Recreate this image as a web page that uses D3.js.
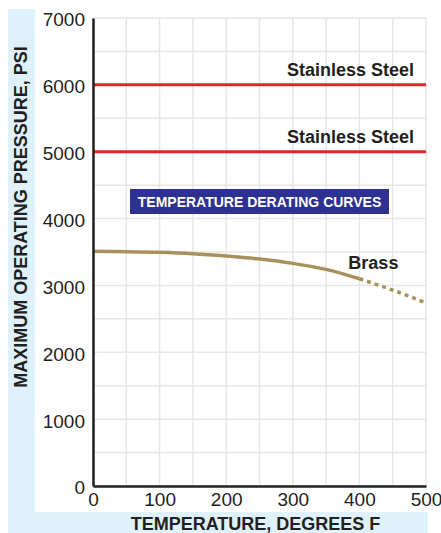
<!DOCTYPE html>
<html><head><meta charset="utf-8">
<script src="https://cdn.jsdelivr.net/npm/d3@7"></script>
<style>body{margin:0;background:#fff;}svg{display:block;font-family:"Liberation Sans",Arial,Helvetica,sans-serif;}</style>
</head><body>
<svg id="c" width="441" height="533"></svg>
<script>
const xTicks = [0,100,200,300,400,500];
const yTicks = [0,1000,2000,3000,4000,5000,6000,7000];
const steelLevels = [6000,5000];
const steelLabels = ["Stainless Steel","Stainless Steel"];
const brassTempSolid = [0,50,100,150,200,250,300,350,400];
const brassPsiSolid = [3510,3505,3495,3475,3440,3395,3330,3240,3100];
const brassTempDash = [400,450,500];
const brassPsiDash = [3100,2930,2740];
const title = "TEMPERATURE DERATING CURVES";
const xTitle = "TEMPERATURE, DEGREES F";
const yTitle = "MAXIMUM OPERATING PRESSURE, PSI";

const svg = d3.select("#c");
const x = d3.scaleLinear().domain([0,500]).range([93,426]);
const y = d3.scaleLinear().domain([0,7000]).range([486,18]);

// blue L background
svg.append("rect").attr("x",8).attr("y",9).attr("width",27).attr("height",524).attr("fill","#dff1fb");
svg.append("rect").attr("x",8).attr("y",512).attr("width",420).attr("height",21).attr("fill","#dff1fb");

// grid
const gx = d3.range(0,501,50), gy = d3.range(0,7001,500);
svg.append("g").selectAll("line").data(gx).join("line")
  .attr("x1",d=>x(d)).attr("x2",d=>x(d)).attr("y1",y(7000)).attr("y2",y(0))
  .attr("stroke","#e6e6e6").attr("stroke-width",1.5);
svg.append("g").selectAll("line").data(gy).join("line")
  .attr("x1",x(0)).attr("x2",x(500)).attr("y1",d=>y(d)).attr("y2",d=>y(d))
  .attr("stroke","#e6e6e6").attr("stroke-width",1.5);

// steel lines
svg.append("g").selectAll("line").data(steelLevels).join("line")
  .attr("x1",x(0)).attr("x2",x(500)).attr("y1",d=>y(d)).attr("y2",d=>y(d))
  .attr("stroke","#e52329").attr("stroke-width",3);
svg.append("g").selectAll("text").data(steelLevels).join("text")
  .attr("x",x(482)).attr("y",d=>y(d)-9).attr("text-anchor","end")
  .attr("font-size",18).attr("font-weight","bold").attr("fill","#231f20")
  .text((d,i)=>steelLabels[i]);

// brass
const line = d3.line().x(d=>x(d[0])).y(d=>y(d[1])).curve(d3.curveMonotoneX);
svg.append("path").datum(brassTempSolid.map((t,i)=>[t,brassPsiSolid[i]]))
  .attr("d",line).attr("fill","none").attr("stroke","#a8915c").attr("stroke-width",3.5);
svg.append("path").datum(brassTempDash.map((t,i)=>[t,brassPsiDash[i]]))
  .attr("d",line).attr("fill","none").attr("stroke","#a8915c").attr("stroke-width",3.5)
  .attr("stroke-dasharray","4,4");
svg.append("text").attr("x",x(421)).attr("y",y(3245)).attr("text-anchor","middle")
  .attr("font-size",18).attr("font-weight","bold").attr("fill","#231f20").text("Brass");

// title box
svg.append("rect").attr("x",130).attr("y",189).attr("width",259).attr("height",25).attr("fill","#2e3192");
svg.append("text").attr("x",259.5).attr("y",206.5).attr("text-anchor","middle")
  .attr("font-size",14).attr("font-weight","bold").attr("fill","#fff").text(title);

// axes
const yAxis = svg.append("g").attr("transform",`translate(${x(0)},0)`)
  .call(d3.axisLeft(y).tickValues(yTicks).tickSize(0).tickPadding(8).tickFormat(d3.format("d")));
const xAxis = svg.append("g").attr("transform",`translate(0,${y(0)})`)
  .call(d3.axisBottom(x).tickValues(xTicks).tickSize(0).tickPadding(7).tickFormat(d3.format("d")));
[yAxis,xAxis].forEach(g=>{
  g.select(".domain").attr("stroke","#231f20").attr("stroke-width",2.5);
  g.selectAll("text").attr("font-size",19).attr("fill","#231f20").attr("font-family","Liberation Sans, Arial, sans-serif");
});
yAxis.selectAll("text").attr("dy","0.42em");

// axis titles
svg.append("text").attr("x",255.5).attr("y",529.5).attr("text-anchor","middle")
  .attr("font-size",18).attr("font-weight","bold").attr("fill","#231f20").text(xTitle);
svg.append("text").attr("transform","translate(27,217) rotate(-90)").attr("text-anchor","middle")
  .attr("font-size",18).attr("font-weight","bold").attr("fill","#231f20").text(yTitle);
</script>
</body></html>
